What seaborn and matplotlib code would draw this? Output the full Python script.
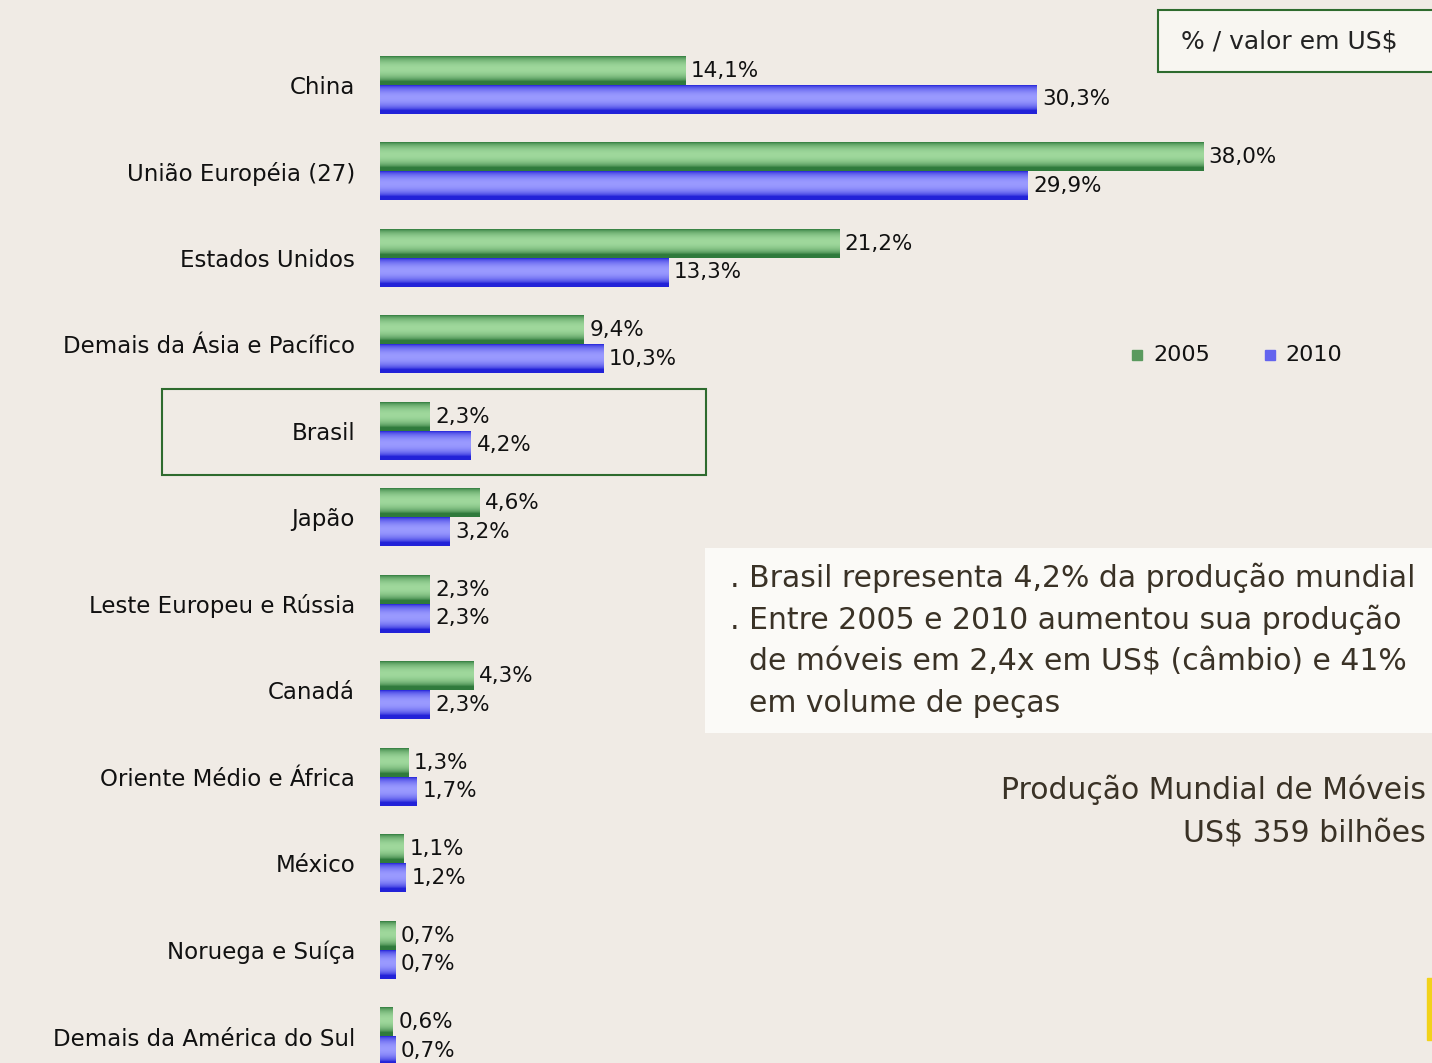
# Produção mundial de móveis por região - participação % (valor em US$), 2005 x 2010
import numpy as np
import pandas as pd
import seaborn as sns
import matplotlib.pyplot as plt
from matplotlib.patches import Rectangle
from matplotlib.colors import to_rgb

regioes = ["China", "União Européia (27)", "Estados Unidos", "Demais da Ásia e Pacífico",
           "Brasil", "Japão", "Leste Europeu e Rússia", "Canadá",
           "Oriente Médio e África", "México", "Noruega e Suíça", "Demais da América do Sul"]
v2005 = [14.1, 38.0, 21.2, 9.4, 2.3, 4.6, 2.3, 4.3, 1.3, 1.1, 0.7, 0.6]
v2010 = [30.3, 29.9, 13.3, 10.3, 4.2, 3.2, 2.3, 2.3, 1.7, 1.2, 0.7, 0.7]
anos = ["2005", "2010"]

df = pd.DataFrame({
    "regiao": regioes * 2,
    "valor": v2005 + v2010,
    "ano": [anos[0]] * len(regioes) + [anos[1]] * len(regioes),
})

fundo = "#f0ebe5"
verde = "#4f9a58"
azul = "#4a4af0"
texto = "#3a3226"

sns.set_style("white")
plt.rcParams["font.family"] = ["DejaVu Sans"]

fig = plt.figure(figsize=(14.32, 10.63), dpi=100)
fig.patch.set_facecolor(fundo)
ax = fig.add_axes([380 / 1432, 0, 1 - 380 / 1432, 1])
ax.set_facecolor("none")

sns.barplot(data=df, y="regiao", x="valor", hue="ano", orient="h",
            palette=[verde, azul], width=0.67, ax=ax, legend=False,
            edgecolor="none", saturation=1)

xlim = (0, (1432 - 380) / 21.66)
ylim = ((1063 - 85) / 86.5, -85 / 86.5)


def gradiente(cor_escura, cor_clara):
    t = np.linspace(0, 1, 64)
    perfil = np.clip(np.sin(np.pi * np.clip(t * 1.15, 0, 1)) ** 0.6, 0, 1)
    e = np.array(to_rgb(cor_escura))
    c = np.array(to_rgb(cor_clara))
    return (e[None, :] + (c - e)[None, :] * perfil[:, None])[:, None, :]


grads = [gradiente("#2f7a3c", "#9fd89c"), gradiente("#2222d8", "#9a9aff")]
for cont, grad in zip(ax.containers, grads):
    for barra in cont:
        x0, y0 = barra.get_x(), barra.get_y()
        w, h = barra.get_width(), barra.get_height()
        ax.imshow(grad, extent=[x0, x0 + w, y0 + h, y0], aspect="auto",
                  interpolation="bilinear", zorder=3)

ax.set_xlim(*xlim)
ax.set_ylim(*ylim)

for cont, vals in zip(ax.containers, [v2005, v2010]):
    ax.bar_label(cont, labels=[f"{v:.1f}%".replace(".", ",") for v in vals],
                 padding=4, fontsize=15.5, color="#111111", zorder=4)

for s in ax.spines.values():
    s.set_visible(False)
ax.set_xticks([])
ax.set_xlabel("")
ax.set_ylabel("")
ax.tick_params(axis="y", length=0, pad=18, labelsize=16.5, labelcolor="#111111")

# destaque Brasil
fig.patches.append(Rectangle((162 / 1432, 1 - 475 / 1063), (706 - 162) / 1432, 86 / 1063,
                             transform=fig.transFigure, fill=False,
                             edgecolor="#2e6b2e", linewidth=1.5))

# caixa unidade
fig.patches.append(Rectangle((1158 / 1432, 1 - 72 / 1063), 300 / 1432, 62 / 1063,
                             transform=fig.transFigure, facecolor="#f8f6f1",
                             edgecolor="#2e6b2e", linewidth=1.5))
fig.text(1181 / 1432, 1 - 42 / 1063, "% / valor em US$", fontsize=18,
         color="#222222", va="center", ha="left")

# legenda
fig.patches.append(Rectangle((1132 / 1432, 1 - 360 / 1063), 10 / 1432, 10 / 1063,
                             transform=fig.transFigure, color="#5a9a5e"))
fig.text(1153 / 1432, 1 - 355 / 1063, anos[0], fontsize=16, color="#111111", va="center")
fig.patches.append(Rectangle((1265 / 1432, 1 - 360 / 1063), 10 / 1432, 10 / 1063,
                             transform=fig.transFigure, color="#6464ee"))
fig.text(1285 / 1432, 1 - 355 / 1063, anos[1], fontsize=16, color="#111111", va="center")

# texto explicativo
fig.patches.append(Rectangle((705 / 1432, 1 - 733 / 1063), 740 / 1432, 185 / 1063,
                             transform=fig.transFigure, facecolor="#fbfaf7",
                             edgecolor="none"))
linhas = [". Brasil representa 4,2% da produção mundial",
          ". Entre 2005 e 2010 aumentou sua produção",
          "  de móveis em 2,4x em US$ (câmbio) e 41%",
          "  em volume de peças"]
for i, ln in enumerate(linhas):
    fig.text(730 / 1432, 1 - (578 + 42 * i) / 1063, ln, fontsize=21.5,
             color=texto, va="center", ha="left")

fig.text(1426 / 1432, 1 - 790 / 1063, "Produção Mundial de Móveis", fontsize=21.5,
         color=texto, va="center", ha="right")
fig.text(1426 / 1432, 1 - 833 / 1063, "US$ 359 bilhões", fontsize=21.5,
         color=texto, va="center", ha="right")

fig.patches.append(Rectangle((1427 / 1432, 1 - 1040 / 1063), 5 / 1432, 62 / 1063,
                             transform=fig.transFigure, color="#f2d21a"))

fig.savefig("out.png", dpi=100, facecolor=fundo)
